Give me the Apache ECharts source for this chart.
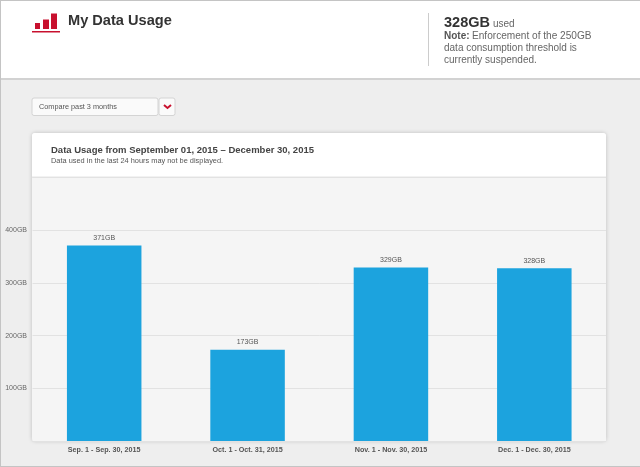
<!DOCTYPE html>
<html><head><meta charset="utf-8">
<style>html,body{margin:0;padding:0;background:#eee}#c{width:640px;height:467px}</style>
<script src="https://cdn.jsdelivr.net/npm/echarts@6/dist/echarts.min.js"></script>
</head><body><div id="c"></div>
<script>
const categories = ['Sep. 1 - Sep. 30, 2015','Oct. 1 - Oct. 31, 2015','Nov. 1 - Nov. 30, 2015','Dec. 1 - Dec. 30, 2015'];
const usage = [371,173,329,328];
const hiddenTicks = [0,500];
const F = '"Liberation Sans", Arial, sans-serif';
const chart = echarts.init(document.getElementById('c'),null,{renderer:'canvas'});
const R=(x,y,w,h,fill,extra)=>Object.assign({type:'rect',shape:{x,y,width:w,height:h},style:{fill}},extra||{});
const T=(x,y,text,font,fill)=>({type:'text',x,y,style:{text,font:font+' '+F,fill,textVerticalAlign:'middle'}});
chart.setOption({
  animation:false,
  backgroundColor:'#eeeeee',
  grid:{left:32.5,right:34,top:177.5,bottom:26,outerBoundsMode:'none',containLabel:false,show:true,backgroundColor:'#f5f5f5',borderWidth:0},
  xAxis:{type:'category',data:categories,axisLine:{show:false},axisTick:{show:false},
    axisLabel:{margin:6,fontFamily:F,fontSize:7.2,fontWeight:'bold',color:'#555'}},
  yAxis:{type:'value',min:0,max:500,interval:100,axisLine:{show:false},axisTick:{show:false},
    splitLine:{lineStyle:{color:'#e2e2e2',width:1}},
    axisLabel:{margin:5.5,fontFamily:F,fontSize:7,color:'#666',
      formatter:v=>hiddenTicks.includes(v)?'':v+'GB'}},
  series:[{type:'bar',data:usage,barWidth:74.5,itemStyle:{color:'#1ca3de'},
    label:{show:true,position:'top',distance:4,formatter:'{c}GB',fontFamily:F,fontSize:7,color:'#555'}}],
  graphic:{elements:[
    // frame + header
    R(0,0,640,80,'#d2d2d2',{z:-10}),
    R(1,1,639,77,'#ffffff',{z:-9}),
    R(0,0,640,1,'#c4c4c4',{z:-9}),
    R(0,0,1,467,'#c4c4c4',{z:-9}),
    R(0,466,640,1,'#c4c4c4',{z:-9}),
    // logo
    R(35,23,5,6,'#c8102e'),R(43,19.5,6,9.5,'#c8102e'),R(51,13.5,6,15.5,'#c8102e'),R(32,31,28,1.5,'#c8102e'),
    T(68,21,'My Data Usage','bold 14.6px','#333'),
    // note
    R(428,13,1,53,'#cccccc'),
    T(444,22.5,'328GB','bold 14.5px','#333'),
    T(493,24,'used','10px','#666'),
    T(444,36.5,'Note:','bold 10px','#555'),
    T(472,36.5,'Enforcement of the 250GB','10.1px','#666'),
    T(444,48.5,'data consumption threshold is','10px','#666'),
    T(444,60.5,'currently suspended.','10px','#666'),
    // dropdown
    R(32,98,126,17.5,'#fafafa',{shape:{x:32,y:98,width:126,height:17.5,r:2},style:{fill:'#fafafa',stroke:'#d4d4d4',lineWidth:1}}),
    R(159,98,16,17.5,'#fafafa',{shape:{x:159,y:98,width:16,height:17.5,r:2},style:{fill:'#fafafa',stroke:'#d4d4d4',lineWidth:1}}),
    T(39,106.5,'Compare past 3 months','7.3px','#555'),
    {type:'polyline',shape:{points:[[164,105],[167.5,108],[171,105]]},style:{stroke:'#c8102e',lineWidth:2,fill:null}},
    // card
    R(32,133,574,308,'#f5f5f5',{shape:{x:32,y:133,width:574,height:308,r:3},style:{fill:'#f5f5f5',shadowBlur:4,shadowColor:'rgba(0,0,0,0.2)'},z:-6}),
    R(32,133,574,44,'#ffffff',{shape:{x:32,y:133,width:574,height:44,r:[3,3,0,0]},z:-5}),
    R(32,176.5,574,1.5,'#e6e6e6'),
    T(51,150,'Data Usage from September 01, 2015 – December 30, 2015','bold 9.5px','#444'),
    T(51,160.5,'Data used in the last 24 hours may not be displayed.','7.4px','#555')
  ]}
});
</script></body></html>
